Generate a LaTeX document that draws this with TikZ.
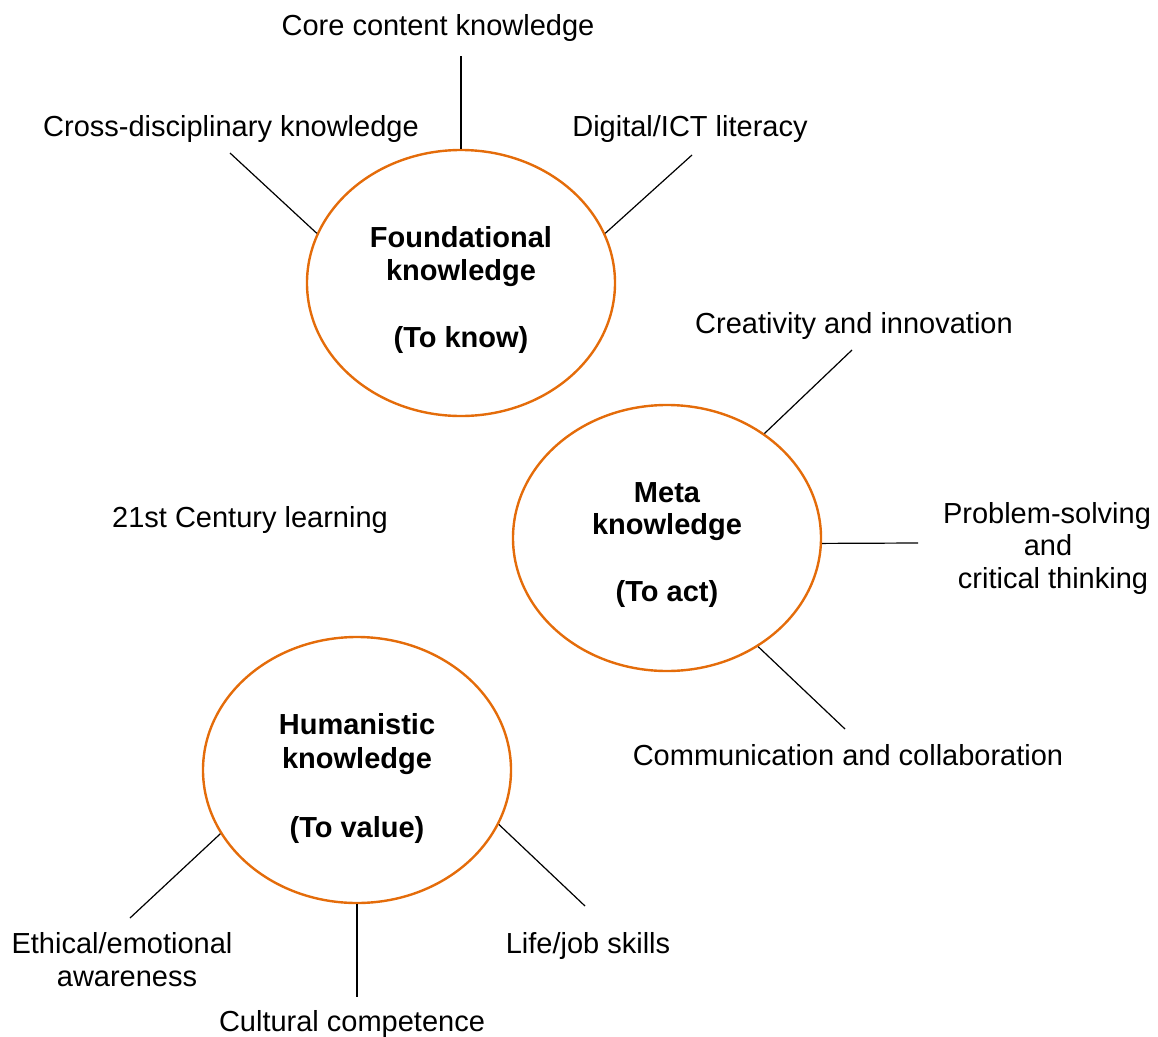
\documentclass[tikz,border=0pt]{standalone}
\usepackage{fontspec}
\setmainfont{Liberation Sans}
\usetikzlibrary{shapes.geometric}
\definecolor{orng}{RGB}{228,108,10}
\begin{document}
\begin{tikzpicture}[x=1bp,y=-1bp,
  ell/.style={draw=orng, line width=2.4bp, ellipse, minimum width=308bp, minimum height=266bp, inner sep=0pt},
  lbl/.style={anchor=base, inner sep=0pt, font=\fontsize{29bp}{33bp}\selectfont},
  blbl/.style={anchor=base, inner sep=0pt, font=\fontsize{29bp}{33bp}\selectfont\bfseries},
  con/.style={line width=1.2bp, black}]
\useasboundingbox (0,0) rectangle (1158,1037);

% ellipses
\node[ell] (f) at (461,283) {};
\node[ell] (m) at (667,538) {};
\node[ell] (h) at (357,770) {};

% ellipse texts
\node[blbl] (f1) at (461,247) {Foundational};
\node[blbl] (f2) at (461,280) {knowledge};
\node[blbl] (f3) at (461,347) {(To know)};
\node[blbl] (m1) at (667,502) {Meta};
\node[blbl] (m2) at (667,534) {knowledge};
\node[blbl] (m3) at (667,601) {(To act)};
\node[blbl] (h1) at (357,734) {Humanistic};
\node[blbl] (h2) at (357,768) {knowledge};
\node[blbl] (h3) at (357,837) {(To value)};

% outer labels
\node[lbl] (core) at (438,35) {Core content knowledge};
\node[lbl] (cross) at (231,136) {Cross-disciplinary knowledge};
\node[lbl] (dig) at (690,136) {Digital/ICT literacy};
\node[lbl] (crea) at (854,333) {Creativity and innovation};
\node[lbl] (c21) at (250,527) {21st Century learning};
\node[lbl] (ps1) at (1047,523) {Problem-solving};
\node[lbl] (ps2) at (1048,555) {and};
\node[lbl] (ps3) at (1053,588) {critical thinking};
\node[lbl] (comm) at (848,765) {Communication and collaboration};
\node[lbl] (eth1) at (122,953) {Ethical/emotional};
\node[lbl] (eth2) at (127,986) {awareness};
\node[lbl] (life) at (588,953) {Life/job skills};
\node[lbl] (cult) at (352,1031) {Cultural competence};

% connector ends
\coordinate (eCore) at (461,56);
\coordinate (eCross) at (230,153);
\coordinate (eDig) at (692,155);
\coordinate (eCrea) at (852,350);
\coordinate (ePS) at (918,543);
\coordinate (eComm) at (845,729);
\coordinate (eEth) at (130,918);
\coordinate (eLife) at (585,906);
\coordinate (eCult) at (357,997);

% connectors
\draw[con] (f.north) -- (eCore);
\draw[con] (f.161) -- (eCross);
\draw[con] (f.19.6) -- (eDig);
\draw[con] (m.47.6) -- (eCrea);
\draw[con] (m.-2) -- (ePS);
\draw[con] (m.-50.2) -- (eComm);
\draw[con] (h.205.6) -- (eEth);
\draw[con] (h.south) -- (eCult);
\draw[con] (h.-21.8) -- (eLife);
\end{tikzpicture}
\end{document}
